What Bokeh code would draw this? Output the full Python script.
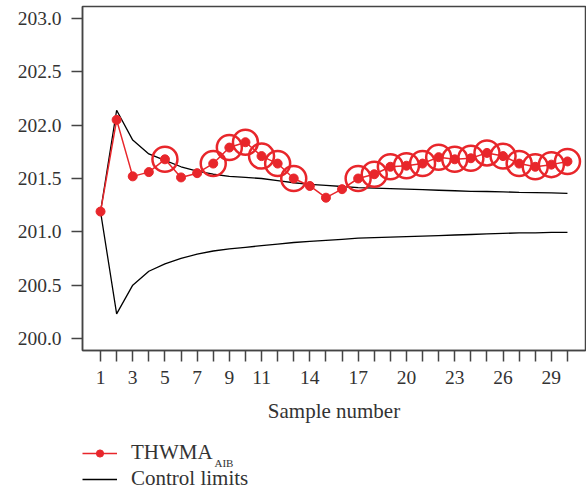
from bokeh.plotting import figure
from bokeh.models import (Range1d, FixedTicker, Legend, LegendItem, Label, NumeralTickFormatter)
from bokeh.embed import file_html
from bokeh.resources import INLINE

samples = list(range(1, 31))
thwma = [201.19, 202.05, 201.52, 201.56, 201.68, 201.51, 201.55, 201.64, 201.79, 201.84,
         201.71, 201.64, 201.50, 201.43, 201.32, 201.40, 201.50, 201.54, 201.61, 201.62,
         201.64, 201.70, 201.68, 201.69, 201.74, 201.71, 201.64, 201.61, 201.63, 201.66]
ucl = [201.19, 202.14, 201.86, 201.73, 201.67, 201.61, 201.57, 201.54, 201.52, 201.51,
       201.50, 201.48, 201.46, 201.445, 201.435, 201.425, 201.415, 201.41, 201.405, 201.40,
       201.395, 201.39, 201.385, 201.38, 201.378, 201.375, 201.37, 201.368, 201.365, 201.36]
lcl = [201.19, 200.23, 200.50, 200.63, 200.70, 200.75, 200.79, 200.82, 200.84, 200.855,
       200.87, 200.885, 200.90, 200.91, 200.92, 200.93, 200.94, 200.945, 200.95, 200.955,
       200.96, 200.965, 200.97, 200.975, 200.98, 200.985, 200.99, 200.99, 200.995, 200.995]
flagged = [5, 8, 9, 10, 11, 12, 13, 17, 18, 19, 20, 21, 22, 23, 24, 25, 26, 27, 28, 29, 30]
x_labels = [1, 3, 5, 7, 9, 11, 14, 17, 20, 23, 26, 29]
y_ticks = [200.0, 200.5, 201.0, 201.5, 202.0, 202.5, 203.0]
legend_labels = ["THWMA", "Control limits"]
legend_sub = "AIB"

RED = "#e8262b"
FONT = "Liberation Serif"
TXT = "#333333"
AX = "#444444"

p = figure(width=586, height=430, output_backend="svg", toolbar_location=None,
           x_range=Range1d(-0.12, 31.12), y_range=Range1d(199.887, 203.113),
           min_border_left=82, min_border_right=1, min_border_top=6, min_border_bottom=80)
p.grid.visible = False
p.outline_line_color = AX
p.outline_line_width = 1.5

for ax in (p.xaxis[0], p.yaxis[0]):
    ax.axis_line_color = AX
    ax.axis_line_width = 1.5
    ax.major_tick_line_color = AX
    ax.major_tick_line_width = 1.5
    ax.major_tick_out = 11
    ax.major_tick_in = 0
    ax.minor_tick_line_color = None
    ax.major_label_text_font = FONT
    ax.major_label_text_font_size = "19.5px"
    ax.major_label_text_color = TXT

p.xaxis.ticker = FixedTicker(ticks=samples)
p.xaxis.major_label_overrides = {s: (str(s) if s in x_labels else "") for s in samples}
p.xaxis.major_label_standoff = 9
p.xaxis.axis_label = "Sample number"
p.xaxis.axis_label_text_font = FONT
p.xaxis.axis_label_text_font_size = "21px"
p.xaxis.axis_label_text_font_style = "normal"
p.xaxis.axis_label_text_color = TXT
p.xaxis.axis_label_standoff = 12

p.yaxis.ticker = FixedTicker(ticks=y_ticks)
p.yaxis.formatter = NumeralTickFormatter(format="0.0")
p.yaxis.major_label_standoff = 10

p.line(samples, ucl, line_color="black", line_width=1.3)
p.line(samples, lcl, line_color="black", line_width=1.3)
p.line(samples, thwma, line_color=RED, line_width=1.5)
p.scatter(samples, thwma, marker="circle", size=9, fill_color=RED, line_color=RED)
fy = [thwma[s - 1] for s in flagged]
p.scatter(flagged, fy, marker="circle", size=25, fill_color=None, line_color=RED, line_width=2.5)

# legend panel below the chart (separate root so its frame is not aligned to the chart)
lf = figure(width=586, height=61, output_backend="svg", toolbar_location=None,
            x_range=Range1d(0, 586), y_range=Range1d(0, 61),
            x_axis_type=None, y_axis_type=None,
            min_border_left=0, min_border_right=0, min_border_top=0, min_border_bottom=0)
lf.grid.visible = False
lf.outline_line_color = None
off = [-50, -40]
lr_line = lf.line(off, off, line_color=RED, line_width=1.5)
lr_dot = lf.scatter(off, off, marker="circle", size=9, fill_color=RED, line_color=RED)
lr_ctl = lf.line(off, off, line_color="black", line_width=1.3)
legend = Legend(items=[LegendItem(label=legend_labels[0], renderers=[lr_line, lr_dot]),
                       LegendItem(label=legend_labels[1], renderers=[lr_ctl])],
                location=(82, 0), orientation="vertical",
                glyph_width=35, glyph_height=18, label_height=18, spacing=1,
                label_standoff=14, padding=0, margin=0,
                border_line_color=None, background_fill_alpha=0,
                label_text_font=FONT, label_text_font_size="21px", label_text_color=TXT)
lf.add_layout(legend, "center")
lf.add_layout(Label(x=214, y=29, text=legend_sub, text_font=FONT, text_font_size="11px",
                    text_color=TXT, text_baseline="middle"))

open("out.html", "w").write(file_html([p, lf], INLINE))
